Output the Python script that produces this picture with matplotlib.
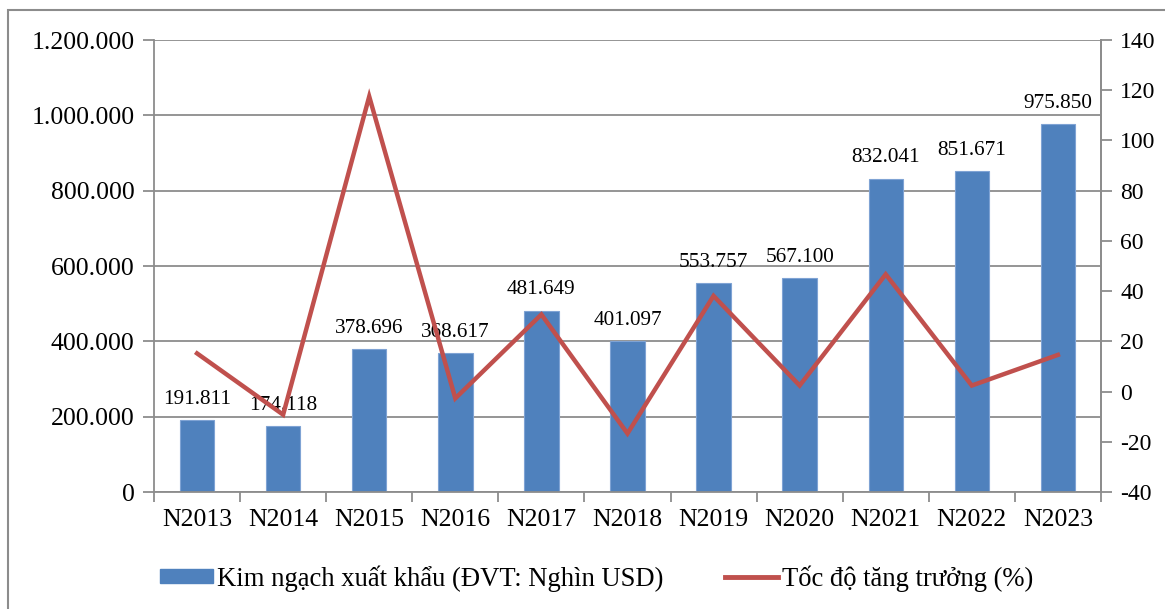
import matplotlib
matplotlib.use("Agg")
import matplotlib.pyplot as plt
from matplotlib.patches import Rectangle
from matplotlib.lines import Line2D
from matplotlib.ticker import FuncFormatter, FixedLocator

plt.rcParams['font.family'] = ['Liberation Serif', 'DejaVu Serif']
plt.rcParams['axes.unicode_minus'] = False

# data
years = ["N2013", "N2014", "N2015", "N2016", "N2017", "N2018",
         "N2019", "N2020", "N2021", "N2022", "N2023"]
export_value = [191811, 174118, 378696, 368617, 481649, 401097,
                553757, 567100, 832041, 851671, 975850]
growth_pct = [15.2, -9.2, 117.5, -2.7, 30.7, -16.7,
              38.1, 2.4, 46.7, 2.4, 14.6]

BAR_COLOR = "#4F81BD"
LINE_COLOR = "#C0504D"
GRID_COLOR = "#8C8C8C"


def dot_thousands(v, pos=None):
    return f"{int(round(v)):,}".replace(",", ".")


fig = plt.figure(figsize=(11.65, 6.09), dpi=100)
ax = fig.add_axes([0.1322, 0.1921, 0.8128, 0.7422])
x = list(range(len(years)))

ax.bar(x, export_value, width=0.4, color=BAR_COLOR, edgecolor="#7FA3D4",
       linewidth=0.8, zorder=2)
for xi, v in zip(x, export_value):
    ax.annotate(dot_thousands(v), (xi, v), xytext=(0, 8), textcoords="offset points",
                ha="center", va="bottom", fontsize=15.3, zorder=5)

ax.set_xlim(-0.5, len(years) - 0.5)
ax.set_ylim(0, 1200000)
ax.set_yticks(range(0, 1200001, 200000))
ax.yaxis.set_major_formatter(FuncFormatter(dot_thousands))
ax.yaxis.grid(True, color=GRID_COLOR, linewidth=1.3, zorder=0)
ax.set_axisbelow(True)

ax.set_xticks(x)
ax.set_xticklabels(years, fontsize=18.5)
ax.tick_params(axis="x", which="major", length=0, pad=12)
ax.xaxis.set_minor_locator(FixedLocator([i - 0.5 for i in range(len(years) + 1)]))
ax.tick_params(axis="x", which="minor", length=7, width=1.3, color=GRID_COLOR)
ax.tick_params(axis="y", length=8, width=1.3, color=GRID_COLOR, labelsize=18.5, pad=6)

ax.spines["top"].set_visible(False)
for side in ["left", "bottom", "right"]:
    ax.spines[side].set_color(GRID_COLOR)
    ax.spines[side].set_linewidth(1.3)

ax2 = ax.twinx()
ax2.plot(x, growth_pct, color=LINE_COLOR, linewidth=3.2, solid_joinstyle="miter", zorder=4)
ax2.set_ylim(-40, 140)
ax2.set_yticks(range(-40, 141, 20))
ax2.tick_params(axis="y", length=8, width=1.3, color=GRID_COLOR, labelsize=17, pad=6)
for side in ["top", "left", "bottom"]:
    ax2.spines[side].set_visible(False)
ax2.spines["right"].set_color(GRID_COLOR)
ax2.spines["right"].set_linewidth(1.3)

handles = [Rectangle((0, 0), 1, 1, color=BAR_COLOR),
           Line2D([0], [0], color=LINE_COLOR, linewidth=3.5)]
labels = ["Kim ngạch xuất khẩu (ĐVT: Nghìn USD)", "Tốc độ tăng trưởng (%)"]
fig.legend(handles, labels, loc="center", bbox_to_anchor=(0.512, 0.05), ncol=2,
           frameon=False, fontsize=19.2, handlelength=2.0, handleheight=0.45,
           columnspacing=2.3, handletextpad=0.15)

# outer frame of the chart
fig.patches.append(Rectangle((8 / 1165, -0.05), 1.2, 1 - 10 / 609 + 0.05,
                             transform=fig.transFigure, fill=False,
                             edgecolor="#8C8C8C", linewidth=1.5))

fig.savefig("out.png", dpi=100)
